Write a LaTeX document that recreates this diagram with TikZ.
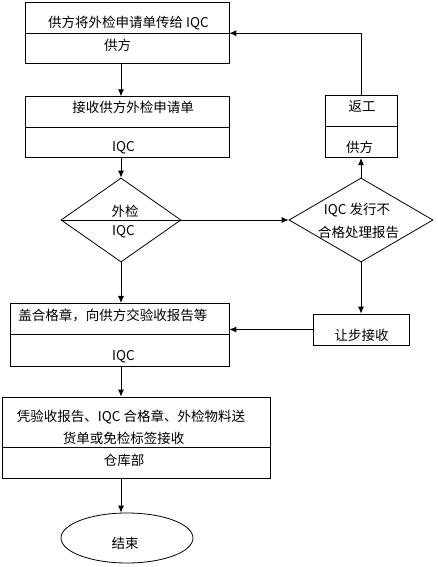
\documentclass[tikz,border=0pt]{standalone}
\usepackage{fontspec}
\setmainfont{Noto Sans CJK SC}
\usetikzlibrary{shapes.geometric, arrows.meta, calc}

\begin{document}
\begin{tikzpicture}[x=1pt, y=-1pt, >={Latex[length=7pt,width=6pt]}, line width=0.8pt,
    font=\fontsize{13.5}{16}\selectfont,
    box/.style={draw, rectangle, inner sep=0pt},
    choice/.style={draw, diamond, inner sep=0pt},
    txt/.style={inner sep=0pt, align=center}]

\useasboundingbox (0,0) rectangle (437,567);

% boxes
\node[box, minimum width=203.3pt, minimum height=61pt] (b1) at (127.3,33.2) {};
\node[box, minimum width=203.3pt, minimum height=61pt] (b2) at (127.3,127.2) {};
\node[box, minimum width=72pt, minimum height=62.4pt] (rw) at (361,126.5) {};
\node[choice, minimum width=120pt, minimum height=84pt] (d1) at (121,220) {};
\node[choice, minimum width=144pt, minimum height=84pt] (d2) at (361,220) {};
\node[box, minimum width=218.3pt, minimum height=62.7pt] (b3) at (119.8,334.7) {};
\node[box, minimum width=96pt, minimum height=31pt] (yb) at (361,329.5) {};
\node[box, minimum width=267.3pt, minimum height=81pt] (b4) at (136.3,437.5) {};
\node[draw, ellipse, minimum width=132pt, minimum height=50pt, inner sep=0pt] (e) at (127,538) {};

% dividers
\draw (b1.west) -- (b1.east);
\draw (b2.west) -- (b2.east);
\draw[line width=1.8pt] (rw.west) -- (rw.east);
\draw (b3.west) -- (b3.east);
\draw ($(b4.west)+(0,9.5)$) -- ($(b4.east)+(0,9.5)$);

% texts
\node[txt] (t1a) at (128.5,23) {供方将外检申请单传给 IQC};
\node[txt] (t1b) at (117.5,45) {供方};
\node[txt] (t2a) at (133,107) {接收供方外检申请单};
\node[txt] (t2b) at (123.5,148) {IQC};
\node[txt] (trw1) at (362,106) {返工};
\node[txt] (trw2) at (359.5,147) {供方};
\node[txt] (td1a) at (125,211) {外检};
\node[txt] (td1b) at (123.5,232) {IQC};
\node[txt] (td2a) at (357,210) {IQC 发行不};
\node[txt] (td2b) at (358.5,232) {合格处理报告};
\node[txt, anchor=west] (t3a) at (18,315) {盖合格章，向供方交验收报告等};
\node[txt] (t3b) at (123.5,357) {IQC};
\node[txt] (tyb) at (361.5,335) {让步接收};
\node[txt] (t4a) at (131,417) {凭验收报告、IQC 合格章、外检物料送};
\node[txt] (t4b) at (123.5,438) {货单或免检标签接收};
\node[txt] (t4c) at (124,460) {仓库部};
\node[txt] (te) at (125,543) {结束};

% connectors
\draw[->] (b1.south -| d1) -- (b2.north -| d1);
\draw[->] (b2.south -| d1) -- (d1.north);
\draw (d1.west) -- (d1.east);
\draw[->] (d1.east) -- (d2.west);
\draw[->] (d2.north) -- (rw.south);
\draw[->] (rw.north) |- (b1.east);
\draw[->] (d1.south) -- (b3.north -| d1);
\draw[->] (d2.south) -- (yb.north);
\draw[->] (yb.west) -- (yb.west -| b3.east);
\draw[->] (b3.south -| d1) -- (b4.north -| d1);
\draw[->] (b4.south -| d1) -- (e.north -| d1);
\end{tikzpicture}
\end{document}
